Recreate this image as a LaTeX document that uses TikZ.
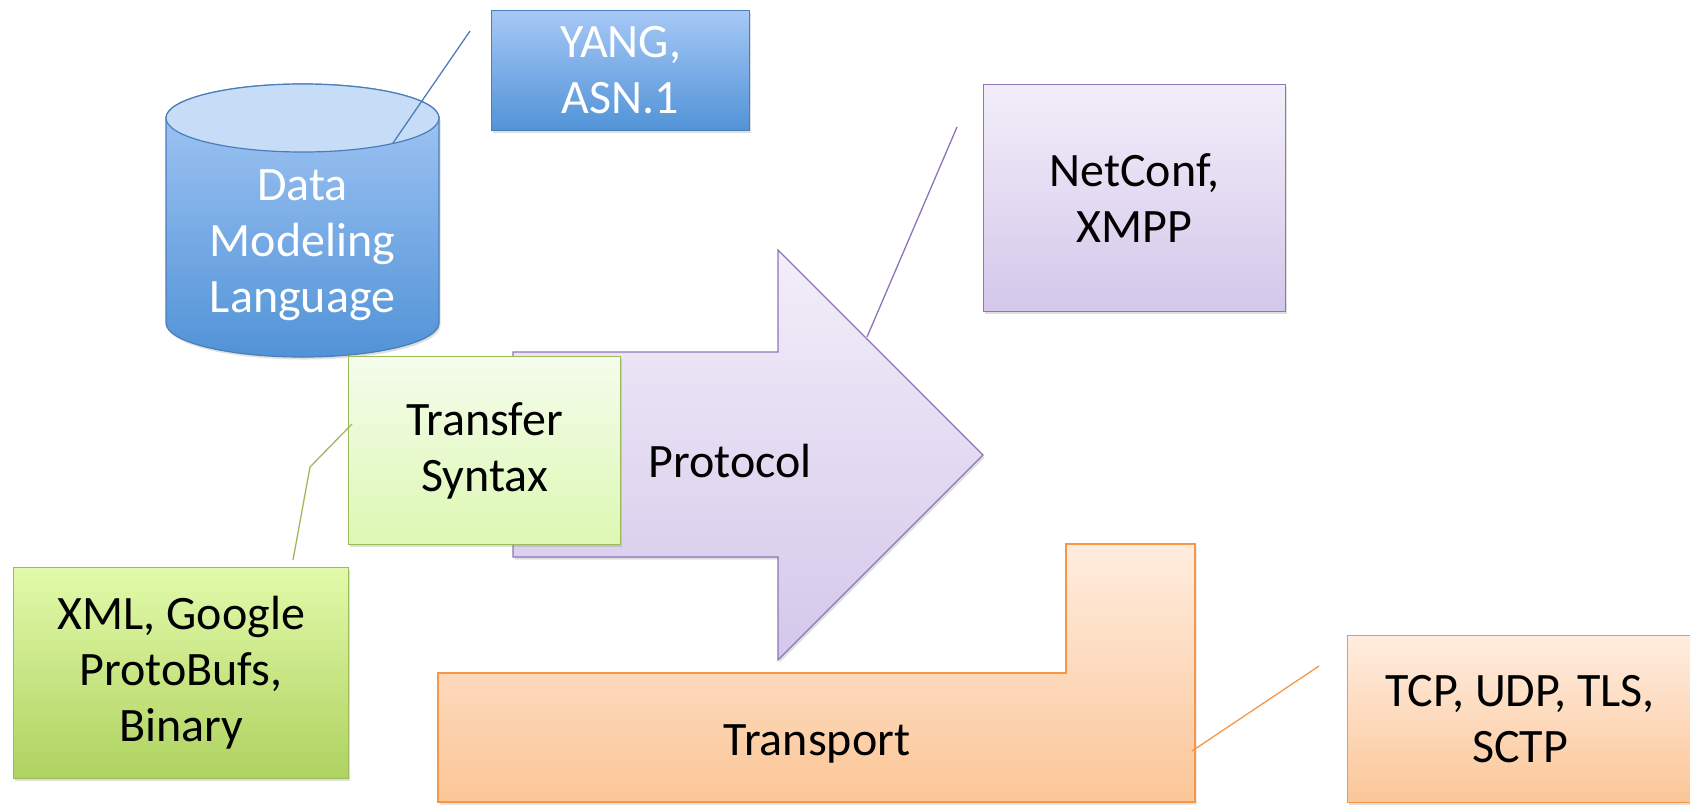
\documentclass[tikz,border=0pt]{standalone}
\usepackage{fontspec}
\setmainfont{Carlito}
\usetikzlibrary{shadows}

\definecolor{blueedge}{HTML}{4A7EBB}
\definecolor{bluetop}{HTML}{A6C8F6}
\definecolor{bluebot}{HTML}{5193D7}
\definecolor{bluelid}{HTML}{C6DCF7}
\definecolor{purpleedge}{HTML}{8F74B8}
\definecolor{purpletop}{HTML}{F2EEF9}
\definecolor{purplebot}{HTML}{D4C7EA}
\definecolor{greenedge}{HTML}{9BBB59}
\definecolor{paletop}{HTML}{F4FCEC}
\definecolor{palebot}{HTML}{DDF8B2}
\definecolor{greentop}{HTML}{E2FAAA}
\definecolor{greenbot}{HTML}{AFD260}
\definecolor{orangeedge}{HTML}{F79646}
\definecolor{orangetop}{HTML}{FFEDE0}
\definecolor{orangebot}{HTML}{FBC697}

\begin{document}
\begin{tikzpicture}[x=1pt,y=-1pt,
	shade/.style={drop shadow={shadow xshift=1.5pt,shadow yshift=-2.5pt,opacity=0.25}},
	txt/.style={align=center,font=\fontsize{48}{56}\selectfont},
	box/.style={txt,shade,draw,line width=1.2pt,rectangle,inner sep=0pt,anchor=north west},
	bluebox/.style={box,draw=blueedge,text=white,top color=bluetop,bottom color=bluebot},
	purplebox/.style={box,draw=purpleedge,top color=purpletop,bottom color=purplebot},
	palebox/.style={box,draw=greenedge,top color=paletop,bottom color=palebot},
	greenbox/.style={box,draw=greenedge,top color=greentop,bottom color=greenbot},
	orangebox/.style={box,draw=orangeedge,top color=orangetop,bottom color=orangebot},
	link/.style={line width=1.3pt}]
\useasboundingbox (0,0) rectangle (1690,804);

% data modeling language store
\path[shade,draw=blueedge,line width=1.2pt,top color=bluetop,bottom color=bluebot]
	(166,118) -- (166,323) arc[start angle=180,end angle=0,x radius=136.5,y radius=34]
	-- (439,118) arc[start angle=0,end angle=-180,x radius=136.5,y radius=34] -- cycle;
\draw[blueedge,line width=1.2pt,fill=bluelid] (302.5,118) ellipse[x radius=136.5,y radius=34];
\node[txt,text=white] (dml) at (302.5,245) {Data\\Modeling\\Language};

\node[bluebox,minimum width=258,minimum height=120] (yang) at (491,10) {YANG,\\ASN.1};
\node[purplebox,minimum width=302,minimum height=227] (netconf) at (983,84) {NetConf,\\XMPP};

% protocol arrow
\path[shade,draw=purpleedge,line width=1.2pt,top color=purpletop,bottom color=purplebot]
	(513,352) -- (778,352) -- (778,250) -- (983,455) -- (778,660) -- (778,557) -- (513,557) -- cycle;
\node[txt] (proto) at (730,461) {Protocol};

\node[palebox,minimum width=272,minimum height=188] (syntax) at (348,356) {Transfer\\Syntax};
\node[greenbox,minimum width=335,minimum height=211] (xml) at (13,567) {XML, Google\\ProtoBufs,\\Binary};

% transport step
\path[shade,draw=orangeedge,line width=1.2pt,top color=orangetop,bottom color=orangebot]
	(438,673) -- (1066,673) -- (1066,544) -- (1195,544) -- (1195,802) -- (438,802) -- cycle;
\node[txt] (transport) at (817,744) {Transport};
\node[orangebox,minimum width=345,minimum height=167] (tcp) at (1347,635) {TCP, UDP, TLS,\\SCTP};

% callout lines
\coordinate (yangend) at (470,31);
\coordinate (dmlend) at (393,143);
\coordinate (netend) at (957,127);
\coordinate (protoend) at (867,337);
\coordinate (xmlend) at (293,560);
\coordinate (bend) at (310,467);
\coordinate (syntaxend) at (352,424);
\coordinate (tcpend) at (1319,666);
\coordinate (transend) at (1192,751);
\draw[link,blueedge] (yangend) -- (dmlend);
\draw[link,purpleedge] (netend) -- (protoend);
\draw[link,greenedge] (xmlend) -- (bend) -- (syntaxend);
\draw[link,orangeedge] (tcpend) -- (transend);
\end{tikzpicture}
\end{document}
